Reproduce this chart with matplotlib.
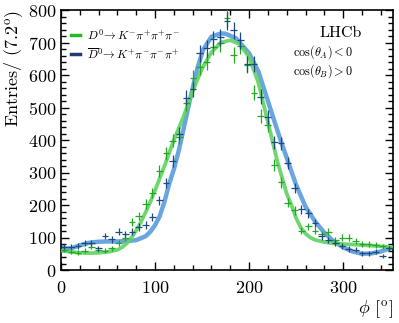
import numpy as np
import matplotlib
matplotlib.use("Agg")
import matplotlib.pyplot as plt
from matplotlib.ticker import MultipleLocator
from matplotlib.lines import Line2D

plt.rcParams['font.family'] = 'serif'
plt.rcParams['font.serif'] = ['cmr10', 'DejaVu Serif']
plt.rcParams['mathtext.fontset'] = 'cm'
plt.rcParams['axes.unicode_minus'] = False
plt.rcParams['axes.formatter.use_mathtext'] = True

# ---- data ----
bin_width = 7.2
phi_centers = [3.6 + 7.2 * i for i in range(49)]

green_counts = [62, 56, 53, 59, 72, 62, 59, 67, 82, 100, 149, 166, 203, 238, 305,
                359, 398, 408, 513, 590, 626, 641, 687, 697, 775,
                662, 690, 630, 546, 474, 446, 323, 270, 207, 184, 121, 134, 121,
                110, 117, 92, 100, 100, 90, 80, 80, 76, 73, 67]

blue_counts = [72, 72, 74, 84, 82, 67, 105, 94, 118, 111, 118, 133, 138, 164, 214,
               268, 335, 420, 530, 556, 667, 682, 710, 716, 765,
               737, 707, 633, 633, 533, 470, 393, 390, 329, 253, 187, 174, 145,
               104, 93, 82, 74, 65, 62, 51, 51, 56, 42, 67]

green_fit_phi = [0, 10, 20, 30, 40, 50, 60, 65, 70, 75, 80, 85, 90, 95, 100, 110, 120,
                 130, 140, 150, 160, 170, 180, 190, 200, 210, 220, 230, 240, 245, 250,
                 255, 260, 265, 270, 280, 290, 300, 320, 340, 353]
green_fit_val = [60, 56, 53, 52, 53, 56, 62, 70, 82, 100, 122, 148, 178, 210, 245, 320, 400,
                 470, 550, 620, 670, 700, 707, 695, 655, 575, 455, 335, 235, 200, 160,
                 130, 112, 100, 93, 86, 82, 80, 77, 73, 70]

blue_fit_phi = [0, 5, 10, 20, 30, 40, 50, 60, 70, 80, 90, 95, 100, 105, 110, 115, 120,
                125, 130, 137, 145, 151, 160, 170, 175, 186, 200, 210, 220, 230, 240,
                250, 260, 270, 280, 290, 300, 310, 320, 330, 340, 353]
blue_fit_val = [72, 66, 66, 76, 84, 87, 88, 88, 89, 92, 104, 118, 138, 166, 210, 265, 310,
                365, 430, 523, 620, 677, 718, 728, 727, 713, 667, 610, 520, 430, 345,
                262, 195, 150, 115, 88, 70, 57, 50, 51, 57, 70]

legend_labels = [r'$D^0\!\rightarrow K^{-}\pi^{+}\pi^{+}\pi^{-}$',
                 r'$\overline{D}^0\!\rightarrow K^{+}\pi^{-}\pi^{-}\pi^{+}$']

# ---- figure ----
fig = plt.figure(figsize=(3.99, 3.23), dpi=100)
ax = fig.add_axes([0.1529, 0.164, 0.832, 0.805])

green_fit_col = '#5fd35f'
blue_fit_col = '#6aa5e0'
green_pt_col = '#22a822'
blue_pt_col = '#1b4a85'

ax.plot(blue_fit_phi, blue_fit_val, color=blue_fit_col, lw=3.2, solid_capstyle='butt', zorder=2)
ax.plot(green_fit_phi, green_fit_val, color=green_fit_col, lw=2.7, alpha=0.9,
        solid_capstyle='butt', zorder=3)

ax.errorbar(phi_centers, green_counts, xerr=bin_width / 2, yerr=np.sqrt(green_counts),
            fmt='none', ecolor=green_pt_col, elinewidth=0.9, capsize=0, zorder=4)
ax.errorbar(phi_centers, blue_counts, xerr=bin_width / 2, yerr=np.sqrt(blue_counts),
            fmt='none', ecolor=blue_pt_col, elinewidth=0.9, capsize=0, zorder=5)

ax.set_xlim(0, 353)
ax.set_ylim(0, 800)
ax.xaxis.set_major_locator(MultipleLocator(100))
ax.xaxis.set_minor_locator(MultipleLocator(20))
ax.yaxis.set_major_locator(MultipleLocator(100))
ax.yaxis.set_minor_locator(MultipleLocator(20))
ax.tick_params(which='both', direction='in', top=True, right=True, labelsize=13, width=1.0)
ax.tick_params(which='major', length=6)
ax.tick_params(which='minor', length=3.5)
ax.tick_params(axis='x', pad=7)
for s in ax.spines.values():
    s.set_linewidth(1.2)

ax.set_ylabel(r'Entries/ $(7.2^{\rm o})$', fontsize=13, loc='top', labelpad=2)
ax.set_xlabel(r'$\phi$ $[^{\rm o}]$', fontsize=13, loc='right', labelpad=2)

handles = [Line2D([], [], color='#22bb22', lw=2.5),
           Line2D([], [], color='#1b3f73', lw=2.5)]
ax.legend(handles, legend_labels, loc='upper left', bbox_to_anchor=(0.005, 0.965),
          frameon=False, fontsize=8.5, handlelength=0.75, handletextpad=0.6,
          labelspacing=0.35, borderaxespad=0.3)

ax.text(0.905, 0.912, 'LHCb', transform=ax.transAxes, fontsize=11.5,
        ha='right', va='center')
ax.text(0.70, 0.838, r'$\cos(\theta_A) < 0$', transform=ax.transAxes, fontsize=8.8,
        ha='left', va='center')
ax.text(0.70, 0.765, r'$\cos(\theta_B) > 0$', transform=ax.transAxes, fontsize=8.8,
        ha='left', va='center')

fig.savefig('out.png', dpi=100)
